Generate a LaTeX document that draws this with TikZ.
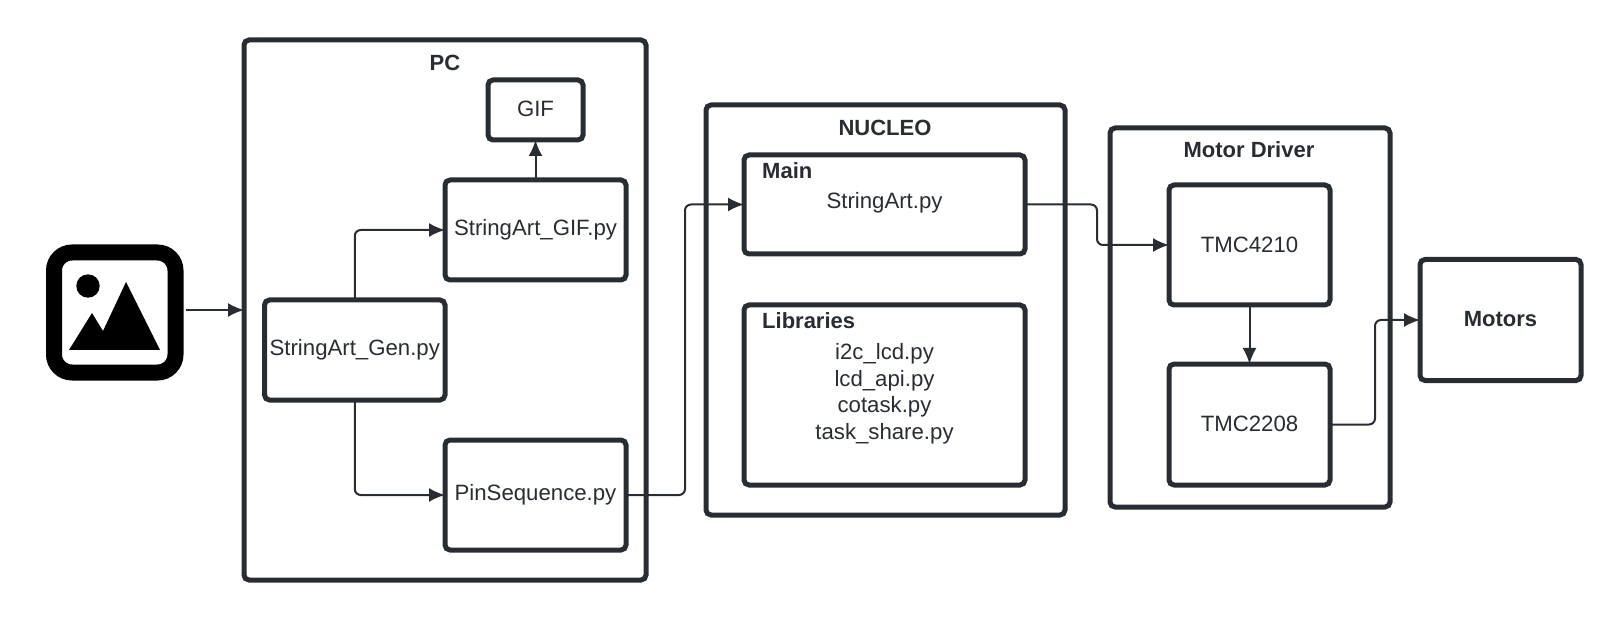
\documentclass[tikz,border=0pt]{standalone}
\usepackage{fontspec}
\setmainfont{Liberation Sans}
\usepackage{xcolor}
\usetikzlibrary{arrows.meta,calc}
\definecolor{BlockInk}{HTML}{282C33}
\tikzset{
  blockbox/.style={draw=BlockInk,line width=5pt,rounded corners=5pt,outer sep=0pt,inner sep=0pt,text=BlockInk,font=\fontsize{22.2}{26}\selectfont},
  blocktitle/.style={text=BlockInk,inner sep=0pt,font=\fontsize{22}{26}\selectfont\bfseries},
  blocktext/.style={text=BlockInk,inner sep=0pt,align=center,font=\fontsize{22.2}{26.5}\selectfont},
  flow/.style={draw=BlockInk,line width=2pt,rounded corners=6pt,-{Latex[length=16pt,width=14pt]}},
}

\begin{document}
\begin{tikzpicture}[x=1pt,y=-1pt]
    \useasboundingbox (0,0) rectangle (1620,620);
    % outer groups first, the blocks go on top of them
    \foreach \x/\y/\w/\h/\name in {445/310/402/540/pc,885.5/310/359/410/nucleo,1250/317.5/280/379/driver} {
     \node[blockbox,minimum width=\w pt,minimum height=\h pt] (\name) at (\x,\y) {};
    }
    \foreach \x/\y/\w/\h/\name/\label in {535.5/110/95/60/gif/GIF,535.5/230/181/100/gifpy/StringArt\_GIF.py,354.75/350/180.5/100/gen/StringArt\_Gen.py,535.5/495/181/110/pin/PinSequence.py,1249.5/245/161/120/tmcA/TMC4210,1249.5/424.5/161/121/tmcB/TMC2208} {
     \node[blockbox,minimum width=\w pt,minimum height=\h pt] (\name) at (\x,\y) {\raisebox{1.5pt}{\label}};
    }
    \node[blockbox,minimum width=161pt,minimum height=121pt,font=\fontsize{22}{26}\selectfont\bfseries] (motors) at (1500.5,320) {\raisebox{2pt}{Motors}};
    \node[blockbox,minimum width=281pt,minimum height=99pt] (main) at (884.5,204.5) {};
    \node[blockbox,minimum width=281pt,minimum height=180pt] (libs) at (884.5,395) {};
    % titles and inner texts
    \node[blocktitle] (pctitle) at (445,63) {PC};
    \node[blocktitle] (nucleotitle) at (885,127.5) {NUCLEO};
    \node[blocktitle] (drivertitle) at (1249,150) {Motor Driver};
    \node[blocktitle,anchor=west] (maintitle) at (762,171) {Main};
    \node[blocktitle,anchor=west] (libstitle) at (762,321) {Libraries};
    \node[blocktext] (maintext) at (884.5,203) {StringArt.py};
    \node[blocktext] (libstext) at (884.5,394) {i2c\_lcd.py\\lcd\_api.py\\cotask.py\\task\_share.py};
    % picture icon
    \node[draw=black,line width=16pt,rounded corners=18pt,minimum width=121.5pt,minimum height=120pt,outer sep=0pt] (icon) at (114.75,312.5) {};
    \fill[black] (88,286) circle (11.7);
    \fill[black] (69,350) -- (92,313) -- (103,331) -- (126,282) -- (160,350) -- cycle;
    % connectors
    \draw[flow,shorten <=10pt] (icon.east |- pc.west) -- (pc.west);
    \draw[flow] (gifpy.north) -- (gif.south);
    \draw[flow] (gen.north) |- (gifpy.west);
    \draw[flow] (gen.south) |- (pin.west);
    \draw[flow] (pin.east) -| ($(pin.east)!0.5!(main.west)$) |- (main.west);
    \draw[flow] (main.east) -| ($(main.east)!0.5!(tmcA.west)$) |- (tmcA.west);
    \draw[flow] (tmcA.south) -- (tmcB.north);
    \draw[flow] (tmcB.east) -| ($(tmcB.east)!0.5!(motors.west)$) |- (motors.west);
\end{tikzpicture}
\end{document}
